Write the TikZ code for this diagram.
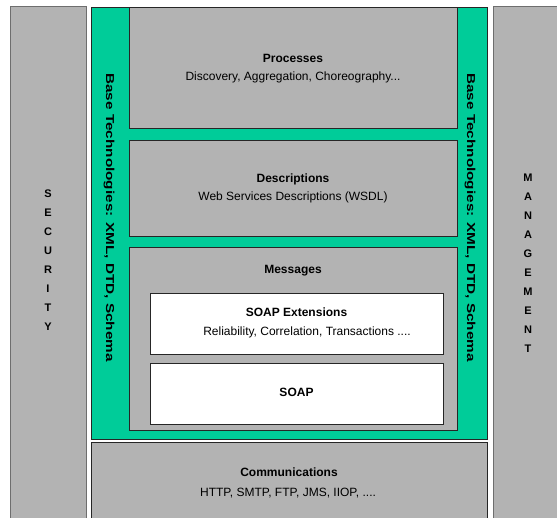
\documentclass[tikz,border=0pt]{standalone}
\usepackage{fontspec}
\setmainfont{Liberation Sans}
\usepackage{graphicx}
\definecolor{boxgray}{RGB}{179,179,179}
\definecolor{basegreen}{RGB}{0,204,153}
\definecolor{edgecol}{RGB}{38,38,38}
\definecolor{sideedge}{RGB}{110,110,110}
\begin{document}
\begin{tikzpicture}[x=1pt,y=-1pt,
  graybox/.style={draw=edgecol,line width=0.9pt,fill=boxgray},
  whitebox/.style={draw=edgecol,line width=0.9pt,fill=white},
  greenbox/.style={draw=edgecol,line width=0.9pt,fill=basegreen},
  sidebox/.style={draw=sideedge,line width=1pt,fill=boxgray},
  ttl/.style={inner sep=0pt,anchor=base,font=\fontsize{12}{14}\selectfont\bfseries},
  subt/.style={inner sep=0pt,anchor=base,font=\fontsize{12}{14}\selectfont},
  vtext/.style={inner sep=0pt,anchor=base,rotate=-90,font=\fontsize{11.5}{14}\selectfont\bfseries},
  vletter/.style={inner sep=0pt,anchor=base,font=\fontsize{11}{13}\selectfont\bfseries}]
\useasboundingbox (0,0) rectangle (557,518);
\clip (0,0) rectangle (557,518);
\fill[white] (0,0) rectangle (557,518);
% side columns
\draw[sidebox] (10,7) rectangle (86,530);
\draw[sidebox] (493,7) rectangle (565,530);
% base technologies frame
\draw[greenbox] (91,7) rectangle (487,439);
% communications
\draw[graybox] (91,442) rectangle (487,530);
% layers
\draw[graybox] (129,7) rectangle (457,128);
\draw[graybox] (129,140) rectangle (457,236);
\draw[graybox] (129,247) rectangle (457,430);
\draw[whitebox] (150,293) rectangle (443,354);
\draw[whitebox] (150,363) rectangle (443,424);
% texts
\node[ttl] (proc) at (293,62.5) {Processes};
\node[subt] (procsub) at (293,80.5) {Discovery, Aggregation, Choreography...};
\node[ttl] (desc) at (293,182.5) {Descriptions};
\node[subt] (descsub) at (293,201) {Web Services Descriptions (WSDL)};
\node[ttl] (msg) at (293,273.5) {Messages};
\node[ttl] (soapx) at (296.5,317) {SOAP Extensions};
\node[subt] (soapxsub) at (307,336) {Reliability, Correlation, Transactions ....};
\node[ttl] (soap) at (296.5,396.5) {SOAP};
\node[ttl] (comm) at (289,476) {Communications};
\node[subt] (commsub) at (288,496.5) {HTTP, SMTP, FTP, JMS, IIOP, ....};
\node[vtext] (baseL) at (106,217.5) {\scalebox{1.33}[1]{Base Technologies: XML, DTD, Schema}};
\node[vtext] (baseR) at (467,217.5) {\scalebox{1.33}[1]{Base Technologies: XML, DTD, Schema}};
\foreach \l [count=\i] in {S,E,C,U,R,I,T,Y}
  \node[vletter] (sec\i) at (48,{198+19*(\i-1)}) {\l};
\foreach \l [count=\i] in {M,A,N,A,G,E,M,E,N,T}
  \node[vletter] (man\i) at (528,{182+19*(\i-1)}) {\l};
\end{tikzpicture}
\end{document}
